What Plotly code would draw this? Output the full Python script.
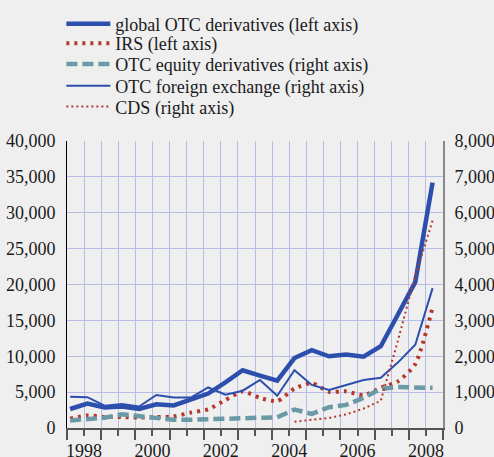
import plotly.graph_objects as go

periods = ["Jun98", "Dec98", "Jun99", "Dec99", "Jun00", "Dec00", "Jun01", "Dec01",
           "Jun02", "Dec02", "Jun03", "Dec03", "Jun04", "Dec04", "Jun05", "Dec05",
           "Jun06", "Dec06", "Jun07", "Dec07", "Jun08", "Dec08"]
# position of each half-year observation on the year axis
x_pos = [1998.09 + 0.505 * i for i in range(len(periods))]

global_otc = [2650, 3400, 2850, 3000, 2650, 3300, 3150, 3950, 4800, 6370, 8050, 7300,
              6600, 9750, 10850, 10000, 10250, 9950, 11400, 15850, 20350, 34200]
irs = [1300, 1750, 1550, 1530, 1450, 1530, 1600, 2150, 2600, 3900, 5100, 4200,
       3750, 5500, 6250, 5060, 5100, 4550, 5600, 6500, 8900, 16800]
equity = [210, 255, 285, 380, 330, 285, 230, 230, 245, 255, 285, 285,
          300, 515, 395, 580, 645, 840, 1090, 1140, 1140, 1120]
fx = [870, 860, 620, 670, 600, 920, 850, 850, 1130, 930, 1040, 1340,
      900, 1610, 1200, 1060, 1200, 1340, 1400, 1830, 2320, 3900]
cds = [None] * 13 + [176, 225, 280, 380, 540, 760, 2450, 4250, 5780]

left_ticks = [0, 5000, 10000, 15000, 20000, 25000, 30000, 35000, 40000]
right_ticks = [0, 1000, 2000, 3000, 4000, 5000, 6000, 7000, 8000]
year_ticks = [1998.5 + k for k in range(11)]
year_text = [str(1998 + k) if k % 2 == 0 else "" for k in range(11)]
year_bounds = [1998 + k for k in range(12)]

BLUE = "#2c4fae"
RED = "#b5382b"
TEAL = "#6a9aa6"
GRID = "#b8bde8"
FONT = "'Liberation Serif', 'Times New Roman', 'DejaVu Serif', serif"

fig = go.Figure()
fig.add_trace(go.Scatter(x=x_pos, y=global_otc, name="global OTC derivatives (left axis)",
                         mode="lines", line=dict(color=BLUE, width=4.5), legend="legend"))
fig.add_trace(go.Scatter(x=x_pos, y=irs, name="IRS (left axis)", mode="lines", legend="legend2",
                         line=dict(color=RED, width=4, dash="3px,5px", shape="spline", smoothing=0.6)))
fig.add_trace(go.Scatter(x=x_pos, y=equity, name="OTC equity derivatives (right axis)",
                         mode="lines", yaxis="y2", legend="legend3",
                         line=dict(color=TEAL, width=4.5, dash="11px,5px")))
fig.add_trace(go.Scatter(x=x_pos, y=fx, name="OTC foreign exchange (right axis)",
                         mode="lines", yaxis="y2", legend="legend4",
                         line=dict(color=BLUE, width=2)))
fig.add_trace(go.Scatter(x=x_pos, y=cds, name="CDS (right axis)", mode="lines", yaxis="y2",
                         legend="legend5", line=dict(color=RED, width=2, dash="2px,3px")))

def leg(ypos):
    return dict(x=-0.015, y=ypos, xanchor="left", yanchor="top", bgcolor="rgba(0,0,0,0)",
                font=dict(family=FONT, size=18, color="#1a1a1a"), itemwidth=44)

fig.update_layout(
    width=494, height=457,
    margin=dict(l=67, r=51, t=141, b=29, autoexpand=False),
    paper_bgcolor="#efefef", plot_bgcolor="#efefef",
    font=dict(family=FONT, size=18, color="#1a1a1a"),
    showlegend=True,
    legend=leg(1.4716), legend2=leg(1.4038), legend3=leg(1.3315),
    legend4=leg(1.2561), legend5=leg(1.1834),
    xaxis=dict(range=[1998, 2009], tickmode="array", tickvals=year_ticks, ticktext=year_text,
               showline=True, linecolor="#555", linewidth=2, ticks="outside", ticklen=6,
               tickwidth=2, tickcolor="#555", showgrid=True, gridcolor=GRID, gridwidth=1.2,
               zeroline=False, ticklabelstandoff=-1,
               minor=dict(tickmode="array", tickvals=year_bounds, ticks="outside", ticklen=10,
                          tickwidth=2, tickcolor="#555", showgrid=True, gridcolor=GRID,
                          gridwidth=1.2)),
    yaxis=dict(range=[0, 40000], tickmode="array", tickvals=left_ticks,
               ticktext=[f"{v:,}" for v in left_ticks], showline=True, linecolor="#000",
               linewidth=1, showgrid=True, gridcolor=GRID, gridwidth=1.2, zeroline=False,
               ticks="", ticklabelstandoff=7),
    yaxis2=dict(range=[0, 8000], overlaying="y", side="right", tickmode="array",
                tickvals=right_ticks, ticktext=[f"{v:,}" for v in right_ticks],
                showline=True, linecolor="#888", linewidth=2, showgrid=False,
                zeroline=False, ticks="", ticklabelstandoff=6),
)

fig.write_html("out.html", config={"displayModeBar": False},
               post_script="document.body.style.margin='0';")
